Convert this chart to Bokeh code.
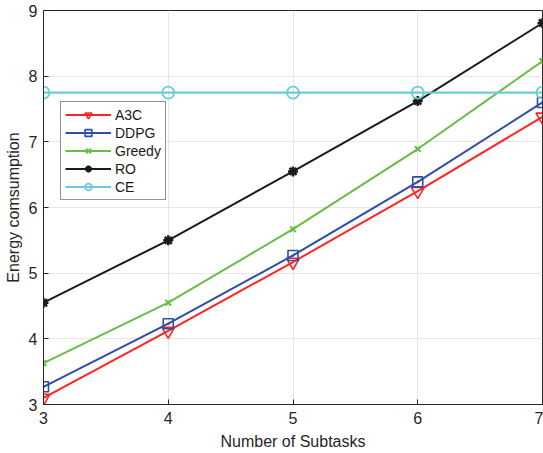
from bokeh.plotting import figure
from bokeh.models import Legend, LegendItem, FixedTicker
from bokeh.embed import file_html
from bokeh.resources import INLINE

subtasks = [3, 4, 5, 6, 7]
a3c = [3.10, 4.12, 5.17, 6.25, 7.38]
ddpg = [3.27, 4.23, 5.27, 6.39, 7.60]
greedy = [3.63, 4.55, 5.67, 6.89, 8.23]
ro = [4.55, 5.50, 6.55, 7.62, 8.81]
ce = [7.75, 7.75, 7.75, 7.75, 7.75]

p = figure(width=543, height=453, output_backend="svg", toolbar_location=None,
           x_range=(3, 7), y_range=(3, 9),
           min_border_left=43, min_border_right=1, min_border_top=10, min_border_bottom=49)

p.outline_line_color = "#262626"
p.outline_line_width = 1
for ax in (p.xaxis[0], p.yaxis[0]):
    ax.axis_line_color = "#262626"
    ax.major_tick_line_color = "#262626"
    ax.major_tick_in = 5
    ax.major_tick_out = 0
    ax.minor_tick_line_color = None
    ax.major_label_text_font = "Liberation Sans"
    ax.major_label_text_font_size = "16px"
    ax.major_label_text_color = "#262626"
    ax.axis_label_text_font = "Liberation Sans"
    ax.axis_label_text_font_size = "16px"
    ax.axis_label_text_font_style = "normal"
    ax.axis_label_text_color = "#262626"

p.xaxis.ticker = FixedTicker(ticks=subtasks)
p.yaxis.ticker = FixedTicker(ticks=[3, 4, 5, 6, 7, 8, 9])
p.xaxis.axis_label = "Number of Subtasks"
p.yaxis.axis_label = "Energy comsumption"
p.xaxis.major_label_standoff = 7
p.yaxis.major_label_standoff = 6
p.xaxis.axis_label_standoff = 6
p.yaxis.axis_label_standoff = 4

p.grid.grid_line_color = "#e6e6e6"
p.grid.grid_line_width = 1

red = "#ff2424"
blue = "#2e4ea6"
green = "#68bd45"
black = "#1a1a1a"
cyan = "#6dcbd9"

l1 = p.line(subtasks, a3c, line_color=red, line_width=2)
m1 = p.scatter(subtasks, a3c, marker="inverted_triangle", size=13, fill_color=None,
               line_color=red, line_width=1.6)
l2 = p.line(subtasks, ddpg, line_color=blue, line_width=2)
m2 = p.scatter(subtasks, ddpg, marker="square_dot", size=10, fill_color=None,
               line_color=blue, line_width=1.6)
l3 = p.line(subtasks, greedy, line_color=green, line_width=2)
m3 = p.scatter(subtasks, greedy, marker="x", size=8, line_color=green, line_width=2)
l4 = p.line(subtasks, ro, line_color=black, line_width=2)
m4 = p.scatter(subtasks, ro, marker="asterisk", size=10, line_color=black, line_width=2.5)
l5 = p.line(subtasks, ce, line_color=cyan, line_width=2.2)
m5 = p.scatter(subtasks, ce, marker="circle", size=12, fill_color=None,
               line_color=cyan, line_width=1.8)

legend = Legend(items=[
    LegendItem(label="A3C", renderers=[l1, m1]),
    LegendItem(label="DDPG", renderers=[l2, m2]),
    LegendItem(label="Greedy", renderers=[l3, m3]),
    LegendItem(label="RO", renderers=[l4, m4]),
    LegendItem(label="CE", renderers=[l5, m5]),
], location=(17, 204))
legend.label_text_font = "Liberation Sans"
legend.label_text_font_size = "14px"
legend.label_text_color = "#1a1a1a"
legend.border_line_color = "#262626"
legend.border_line_width = 1
legend.glyph_width = 46
legend.glyph_height = 17
legend.label_height = 17
legend.spacing = 1
legend.padding = 4
legend.margin = 0
legend.label_standoff = 4
legend.background_fill_alpha = 1
p.add_layout(legend, "center")

open("out.html", "w").write(file_html(p, INLINE))
